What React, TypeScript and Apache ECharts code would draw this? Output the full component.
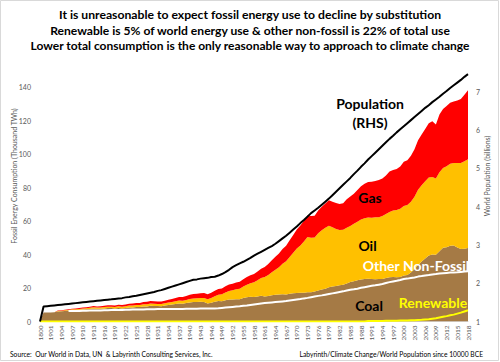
import React, { useEffect, useRef } from "react";
import * as echarts from "echarts";

const FONT = "Lato, 'Noto Sans', sans-serif";

const laterYears: string[] = Array.from({ length: 118 }, (_, i) => String(1901 + i));
const categories: string[] = ["1800", "1850", "1900", ...laterYears];

const titleLines = [
  "It is unreasonable to expect fossil energy use to decline by substitution",
  "Renewable is 5% of world energy use & other non-fossil is 22% of total use",
  "Lower total consumption is the only reasonable way to approach to climate change",
];

// Thousand TWh (stacked fossil)
const coal = [
  0, 5.3, 5.3,
  5.4, 5.5, 6.0, 6.1, 6.3, 6.5, 6.8, 6.8, 7.0, 7.2,
  7.3, 7.5, 7.8, 7.6, 7.6, 7.8, 8.0, 8.0, 7.7, 8.1,
  7.8, 8.0, 8.4, 8.4, 8.6, 8.6, 9.0, 9.0, 9.4, 9.3,
  9.2, 9.1, 9.5, 9.9, 10.1, 10.5, 10.8, 10.6, 11.0, 11.4,
  11.6, 11.7, 11.8, 11.6, 10.8, 11.2, 11.8, 12.2, 12.1, 12.7,
  13.1, 13.1, 13.3, 13.3, 14.0, 14.5, 14.8, 14.7, 15.0, 15.3,
  15.0, 15.2, 15.6, 15.9, 16.1, 16.3, 16.1, 16.5, 16.8, 17.0,
  17.1, 17.2, 17.5, 17.5, 17.9, 18.5, 19.1, 19.6, 20.4, 20.9,
  21.2, 21.6, 22.0, 22.7, 23.6, 24.0, 24.6, 25.1, 25.3, 25.5,
  25.3, 25.2, 25.3, 25.4, 26.0, 26.4, 26.5, 26.4, 26.5, 27.5,
  27.8, 29.2, 31.3, 33.7, 35.8, 37.6, 39.4, 40.0, 39.8, 41.9,
  44.0, 44.4, 45.2, 45.3, 44.2, 43.3, 43.5, 43.9,
];

const oil = [
  0, 0, 0,
  0, 0, 0.3, 0.3, 0.35, 0.4, 0.45, 0.5, 0.5, 0.55,
  0.6, 0.65, 0.7, 0.7, 0.75, 0.8, 0.85, 0.85, 0.9, 0.95,
  1.0, 1.05, 1.1, 1.15, 1.2, 1.2, 1.25, 1.3, 1.35, 1.3,
  1.3, 1.3, 1.35, 1.4, 1.5, 1.6, 1.75, 1.8, 1.9, 2.0,
  2.2, 2.2, 2.3, 2.5, 2.5, 2.9, 3.3, 3.8, 4.1, 4.6,
  5.1, 5.5, 5.9, 6.2, 6.9, 7.5, 8.1, 8.7, 9.6, 10.6,
  11.5, 12.6, 13.8, 15.0, 16.3, 18.2, 19.8, 22.0, 24.3, 26.6,
  28.3, 30.5, 33.0, 32.5, 32.2, 34.2, 35.4, 36.3, 36.8, 35.3,
  34.0, 33.0, 32.8, 33.3, 33.4, 34.3, 34.9, 35.8, 36.3, 36.6,
  36.6, 37.0, 37.0, 37.6, 38.2, 39.0, 39.8, 40.1, 40.8, 41.5,
  41.8, 42.3, 43.2, 45.0, 45.6, 46.1, 46.6, 46.3, 45.6, 47.2,
  47.7, 48.3, 49.0, 49.4, 50.4, 51.3, 52.2, 53.0,
];

const gas = [
  0, 0, 0,
  0, 0, 0.2, 0.25, 0.3, 0.35, 0.4, 0.45, 0.5, 0.55,
  0.6, 0.65, 0.7, 0.7, 0.75, 0.8, 0.85, 0.85, 0.9, 0.95,
  1.0, 1.05, 1.1, 1.2, 1.25, 1.3, 1.4, 1.45, 1.55, 1.5,
  1.5, 1.5, 1.6, 1.7, 1.8, 1.95, 2.1, 2.2, 2.3, 2.5,
  2.6, 2.7, 2.8, 2.9, 2.9, 3.0, 3.2, 3.4, 3.5, 3.8,
  3.9, 4.0, 4.1, 4.2, 4.3, 4.5, 4.7, 4.9, 5.2, 5.6,
  6.0, 6.5, 7.1, 7.7, 8.2, 8.8, 9.3, 10.0, 10.6, 11.3,
  11.9, 12.4, 12.9, 13.0, 13.0, 13.6, 14.0, 14.5, 15.2, 15.3,
  15.5, 15.5, 15.8, 17.0, 17.6, 18.0, 19.0, 19.9, 20.7, 21.2,
  21.6, 21.7, 22.2, 22.3, 23.0, 24.2, 24.2, 24.6, 25.3, 26.3,
  26.7, 27.5, 28.4, 29.5, 30.3, 31.2, 32.3, 33.2, 32.2, 34.5,
  35.2, 36.0, 36.4, 36.6, 37.3, 38.2, 39.6, 41.2,
];

// Thousand TWh (lines, not stacked)
const otherNonFossil = [
  null, null, null,
  null, null, null, null, null, 6.2, 6.2, 6.3, 6.3, 6.4,
  6.4, 6.5, 6.5, 6.6, 6.6, 6.7, 6.7, 6.8, 6.8, 6.9,
  6.9, 7.0, 7.0, 7.1, 7.1, 7.2, 7.2, 7.3, 7.3, 7.3,
  7.4, 7.4, 7.4, 7.4, 7.5, 7.5, 7.5, 7.5, 7.6, 7.6,
  7.6, 7.6, 7.7, 7.7, 7.7, 7.7, 7.8, 7.9, 8.1, 8.3,
  8.5, 8.7, 8.9, 9.1, 9.4, 9.6, 9.9, 10.2, 10.5, 10.8,
  11.0, 11.2, 11.4, 11.6, 11.8, 12.0, 12.2, 12.5, 12.8, 13.1,
  13.4, 13.8, 14.1, 14.5, 14.9, 15.3, 15.6, 16.0, 16.4, 16.8,
  17.2, 17.6, 18.0, 18.5, 18.9, 19.2, 19.6, 20.1, 20.5, 20.9,
  21.3, 21.6, 22.0, 22.4, 23.0, 23.5, 23.9, 24.3, 24.8, 25.4,
  25.6, 26.0, 26.3, 26.8, 27.1, 27.5, 27.7, 28.1, 28.3, 28.6,
  28.8, 29.0, 29.2, 29.3, 29.4, 29.6, 29.8, 30.0,
];

const renewable = [
  0, 0, 0,
  0, 0, 0, 0, 0, 0, 0, 0, 0, 0,
  0, 0, 0, 0, 0, 0, 0, 0, 0, 0,
  0, 0, 0, 0, 0, 0, 0, 0, 0, 0,
  0, 0, 0, 0, 0, 0, 0, 0, 0, 0,
  0, 0, 0, 0, 0, 0, 0, 0, 0, 0,
  0, 0, 0, 0, 0, 0, 0, 0, 0, 0,
  0, 0, 0, 0, 0, 0, 0, 0, 0, 0,
  0, 0, 0, 0, 0, 0, 0, 0, 0, 0,
  0, 0, 0, 0, 0, 0, 0, 0, 0, 0.3,
  0.3, 0.3, 0.35, 0.35, 0.4, 0.4, 0.45, 0.5, 0.55, 0.6,
  0.6, 0.7, 0.8, 0.9, 1.0, 1.2, 1.4, 1.7, 2.0, 2.4,
  2.8, 3.2, 3.7, 4.1, 4.7, 5.3, 6.0, 6.7,
];

// Billions (right axis)
const population = [
  1.0, 1.39, 1.4,
  1.41, 1.42, 1.43, 1.44, 1.45, 1.46, 1.47, 1.48, 1.49, 1.5,
  1.51, 1.52, 1.53, 1.54, 1.55, 1.56, 1.57, 1.58, 1.59, 1.6,
  1.61, 1.63, 1.64, 1.66, 1.67, 1.69, 1.71, 1.73, 1.75, 1.77,
  1.8, 1.82, 1.85, 1.88, 1.91, 1.94, 1.97, 2.0, 2.03, 2.06,
  2.09, 2.1, 2.12, 2.13, 2.14, 2.16, 2.17, 2.2, 2.24, 2.29,
  2.35, 2.42, 2.47, 2.52, 2.56, 2.61, 2.66, 2.72, 2.77, 2.82,
  2.87, 2.92, 2.97, 3.03, 3.1, 3.17, 3.24, 3.32, 3.4, 3.48,
  3.57, 3.65, 3.74, 3.83, 3.9, 3.97, 4.05, 4.13, 4.21, 4.3,
  4.39, 4.48, 4.57, 4.66, 4.75, 4.85, 4.94, 5.04, 5.13, 5.23,
  5.32, 5.41, 5.5, 5.59, 5.68, 5.77, 5.85, 5.94, 6.02, 6.1,
  6.18, 6.26, 6.34, 6.42, 6.5, 6.58, 6.65, 6.73, 6.8, 6.87,
  6.95, 7.02, 7.1, 7.17, 7.24, 7.31, 7.39, 7.46,
];

const GREY = "#595959";

function buildOption() {
  const areaSeries = (name: string, data: number[], color: string) => ({
    name,
    type: "line",
    stack: "fossil",
    data,
    symbol: "none",
    silent: true,
    lineStyle: { width: 0, color },
    itemStyle: { color },
    areaStyle: { color, opacity: 1 },
    z: 1,
  });
  const lineSeries = (name: string, data: (number | null)[], color: string, yAxisIndex = 0, z = 3) => ({
    name,
    type: "line",
    data,
    yAxisIndex,
    symbol: "none",
    silent: true,
    connectNulls: false,
    lineStyle: { width: 2, color },
    itemStyle: { color },
    z,
  });
  const text = (t: string, x: number, y: number, size: number, color: string, bold = true, align = "center") => ({
    type: "text",
    x,
    y,
    z: 100,
    silent: true,
    style: {
      text: t,
      fontFamily: FONT,
      fontSize: size,
      fontWeight: bold ? "bold" : "normal",
      fill: color,
      align,
      verticalAlign: "middle",
    },
  });
  return {
    animation: false,
    backgroundColor: "#ffffff",
    grid: { left: 40, right: 32, top: 53.5, bottom: 40.5, containLabel: false },
    xAxis: {
      type: "category",
      data: categories,
      boundaryGap: false,
      axisTick: { show: false },
      axisLine: { show: true, lineStyle: { color: "#d9d9d9", width: 1 } },
      axisLabel: {
        rotate: 90,
        fontSize: 6.5,
        fontFamily: FONT,
        color: GREY,
        margin: 4,
        interval: (index: number) => index === 0 || (index >= 3 && (index - 3) % 3 === 0),
      },
      splitLine: { show: false },
    },
    yAxis: [
      {
        type: "value",
        min: 0,
        max: 160,
        interval: 20,
        axisLine: { show: false },
        axisTick: { show: false },
        splitLine: { show: false },
        axisLabel: { fontSize: 7, fontFamily: FONT, color: GREY, margin: 9, showMaxLabel: false },
      },
      {
        type: "value",
        min: 1,
        max: 8,
        interval: 1,
        position: "right",
        axisLine: { show: false },
        axisTick: { show: false },
        splitLine: { show: false },
        axisLabel: { fontSize: 7, fontFamily: FONT, color: GREY, margin: 8, showMaxLabel: false },
      },
    ],
    series: [
      areaSeries("Coal", coal, "#A57A45"),
      areaSeries("Oil", oil, "#FFC000"),
      areaSeries("Gas", gas, "#FF0000"),
      lineSeries("Other Non-Fossil", otherNonFossil, "#FFFFFF"),
      lineSeries("Renewable", renewable, "#FFFF00"),
      lineSeries("Population", population, "#000000", 1, 4),
    ],
    graphic: [
      {
        type: "rect",
        z: 0,
        silent: true,
        shape: { x: 0.5, y: 0.5, width: 498, height: 360 },
        style: { fill: "none", stroke: "#d9d9d9", lineWidth: 1 },
      },
      text(titleLines[0], 250, 14.5, 12.2, "#000"),
      text(titleLines[1], 250, 30, 12.1, "#000"),
      text(titleLines[2], 250, 45.5, 12, "#000"),
      {
        type: "text",
        x: 14,
        y: 176,
        rotation: Math.PI / 2,
        silent: true,
        style: {
          text: "Fossil Energy Consumption (Thousand TWh)",
          fontFamily: FONT,
          fontSize: 7,
          fill: GREY,
          align: "center",
          verticalAlign: "middle",
        },
      },
      {
        type: "text",
        x: 487,
        y: 176,
        rotation: Math.PI / 2,
        silent: true,
        style: {
          text: "World Population (billions)",
          fontFamily: FONT,
          fontSize: 7,
          fill: GREY,
          align: "center",
          verticalAlign: "middle",
        },
      },
      text("Population", 370, 103, 14, "#000"),
      text("(RHS)", 370, 122, 14, "#000"),
      text("Gas", 370, 197, 14, "#000"),
      text("Oil", 367.5, 245, 14, "#000"),
      text("Other Non-Fossil", 416, 265, 14, "#FFFFFF"),
      text("Coal", 369, 305, 14, "#000"),
      text("Renewable", 433, 302, 14, "#FFFF00"),
      text("Source:  Our World in Data, UN  & Labyrinth Consulting Services, Inc.", 10, 354, 6.7, "#000", false, "left"),
      text("Labyrinth/Climate Change/World Population since 10000 BCE", 483, 354, 6.7, "#000", false, "right"),
    ],
  };
}

export default function App() {
  const ref = useRef<HTMLDivElement>(null);
  useEffect(() => {
    document.body.style.margin = "0";
    if (!ref.current) return;
    const chart = echarts.init(ref.current, null, { renderer: "svg" });
    chart.setOption(buildOption() as any);
    return () => chart.dispose();
  }, []);
  return <div ref={ref} style={{ width: 500, height: 362 }} />;
}
